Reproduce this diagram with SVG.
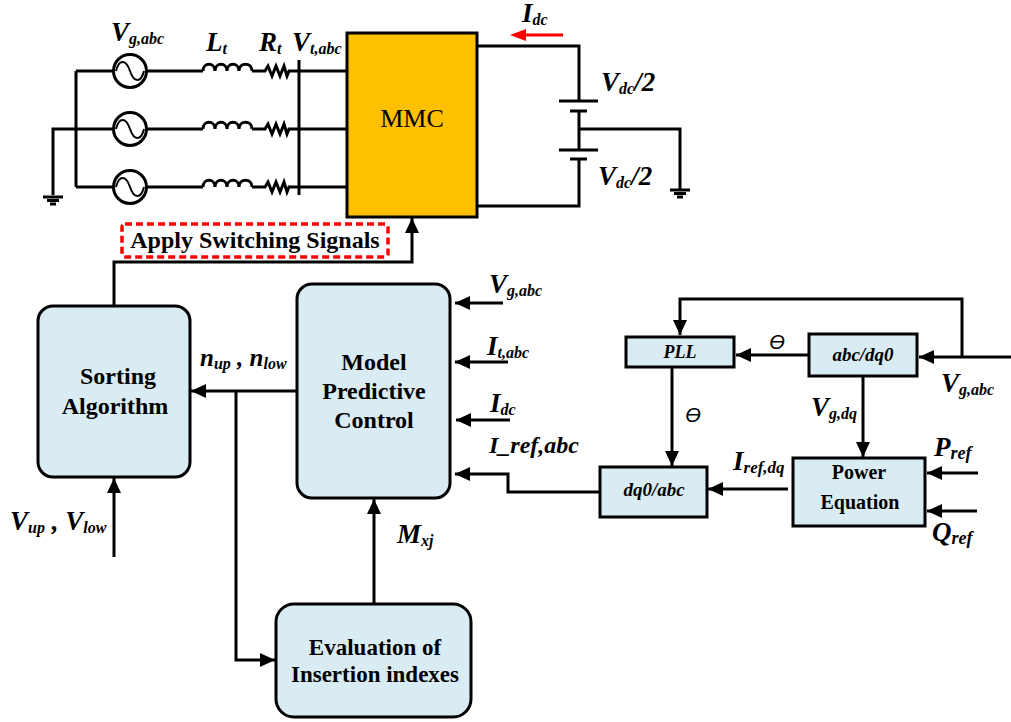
<svg xmlns="http://www.w3.org/2000/svg" width="1011" height="722" viewBox="0 0 1011 722">
<style>
.w{fill:none;stroke:#000;stroke-width:3}
.a{fill:none;stroke:#000;stroke-width:3;marker-end:url(#ah)}
.b{fill:#daecf3;stroke:#000;stroke-width:3}
text{font-family:"Liberation Serif",serif;fill:#000}
.t{font-weight:bold;font-size:24px;text-anchor:middle}
.m{font-weight:bold;font-style:italic;font-size:27px}
.m tspan{font-size:16px}
.s{font-weight:bold;font-style:italic;font-size:19px;text-anchor:middle}
.th{font-family:"Liberation Sans",sans-serif;font-style:italic;font-size:20px;text-anchor:middle}
</style>
<defs>
<marker id="ah" markerUnits="userSpaceOnUse" markerWidth="16" markerHeight="14" refX="15" refY="7" orient="auto"><path d="M0 0L15 7L0 14Z" fill="#000"/></marker>
<g id="src"><circle cx="0" cy="0" r="16.5" fill="none" stroke="#000" stroke-width="3"/><path d="M-14 0C-11 -12 -4 -12 0 0S11 12 14 0" fill="none" stroke="#000" stroke-width="2"/></g>
<path id="rl" d="M-48 0H-24M-24 0C-24 -9 -12 -9 -12 0C-12 -9 0 -9 0 0C0 -9 12 -9 12 0C12 -9 25 -9 25 0M25 0H38L41 -5L45 5L49 -5L53 5L57 -5L60 5L62 0H72" fill="none" stroke="#000" stroke-width="3"/>
<g id="gnd"><path d="M-10 0H10M-6 3.500H6M-3 7H3" fill="none" stroke="#000" stroke-width="3"/></g>
</defs>
<g id="connectors">
<path class="w" d="M76 71V187M76 71H113M76 187H113M53 195V129H113"/>
<path class="w" d="M147 71H179M147 129H179M147 187H179M299 60V195"/>
<use href="#rl" x="227" y="71"/><use href="#rl" x="227" y="129"/><use href="#rl" x="227" y="187"/>
<path class="w" d="M299 71H347M299 129H347M299 187H347"/>
<path class="w" d="M477 46H579V101M579 111V150M579 159V206H477M559 101H598M570 111H587M559 150H598M570 159H587M579 129H680V190"/>
<path d="M563 35H524" fill="none" stroke="#f00" stroke-width="3"/><path d="M510 35L526 29V41Z" fill="#f00"/>
<path class="a" d="M114 306V262H412V218"/>
<path class="a" d="M114 557V478"/>
<path class="a" d="M297 391H191"/>
<path class="a" d="M236 391V660H275"/>
<path class="a" d="M374 604V499"/>
<path class="a" d="M503 303H455"/>
<path class="a" d="M508 362H455"/>
<path class="a" d="M510 420H456"/>
<path class="a" d="M600 492H508V474H455"/>
<path class="a" d="M1011 357H919"/>
<path class="a" d="M962 357V299H680V335"/>
<path class="a" d="M809 355H736"/>
<path class="a" d="M672 367V466"/>
<path class="a" d="M863 376V457"/>
<path class="a" d="M788 489H708"/>
<path class="a" d="M978 473H927"/>
<path class="a" d="M977 511H927"/>
</g>
<g id="sources"><use href="#src" x="130" y="71"/><use href="#src" x="130" y="129"/><use href="#src" x="130" y="187"/></g>
<g id="grounds"><use href="#gnd" x="53" y="197"/><use href="#gnd" x="680" y="190"/></g>
<g id="mmc"><rect x="347" y="33" width="130" height="184" fill="#ffc000" stroke="#000" stroke-width="3"/><text x="412" y="127" font-size="26" text-anchor="middle">MMC</text></g>
<g id="apply"><rect x="122" y="224" width="266" height="33" rx="3" fill="none" stroke="#f00" stroke-width="3.500" stroke-dasharray="7 4"/><text class="t" x="255" y="248">Apply Switching Signals</text></g>
<g id="sorting"><rect class="b" x="38" y="306" width="152" height="171" rx="15"/><text class="t" x="118" y="384">Sorting</text><text class="t" x="115" y="414">Algorithm</text></g>
<g id="mpc"><rect class="b" x="297" y="284" width="153" height="214" rx="15"/><text class="t" x="374" y="370">Model</text><text class="t" x="374" y="399">Predictive</text><text class="t" x="374" y="428">Control</text></g>
<g id="eval"><rect class="b" x="276" y="604" width="195" height="113" rx="18"/><text class="t" x="375" y="655" style="font-size:23px">Evaluation of</text><text class="t" x="375" y="682" style="font-size:23px">Insertion indexes</text></g>
<g id="pll"><rect class="b" x="626" y="337" width="108" height="30"/><text class="s" x="680" y="358" style="font-size:18px">PLL</text></g>
<g id="abc"><rect class="b" x="809" y="334" width="108" height="42"/><text class="s" x="863" y="361">abc/dq0</text></g>
<g id="dq0"><rect class="b" x="600" y="467" width="107" height="50"/><text class="s" x="654" y="496">dq0/abc</text></g>
<g id="power"><rect class="b" x="793" y="458" width="132" height="68"/><text class="t" x="859" y="479" style="font-size:20px">Power</text><text class="t" x="860" y="509" style="font-size:20px">Equation</text></g>
<g id="labels">
<text class="m" x="111" y="41">V<tspan dy="3">g,abc</tspan></text>
<text class="m" x="206" y="51">L<tspan dy="3">t</tspan></text>
<text class="m" x="259" y="51">R<tspan dy="3">t</tspan></text>
<text class="m" x="292" y="51">V<tspan dy="3">t,abc</tspan></text>
<text class="m" x="522" y="22">I<tspan dy="3">dc</tspan></text>
<text class="m" x="601" y="91">V<tspan dy="3">dc</tspan><tspan dy="-3" style="font-size:27px">/2</tspan></text>
<text class="m" x="598" y="185">V<tspan dy="3">dc</tspan><tspan dy="-3" style="font-size:27px">/2</tspan></text>
<text class="m" x="489" y="293">V<tspan dy="3">g,abc</tspan></text>
<text class="m" x="487" y="355">I<tspan dy="3">t,abc</tspan></text>
<text class="m" x="490" y="412">I<tspan dy="3">dc</tspan></text>
<text class="m" x="489" y="453" style="font-size:24px">I_ref,abc</text>
<text class="m" x="200" y="366" style="font-size:25px">n<tspan dy="3">up</tspan><tspan dy="-3" style="font-size:25px"> , n</tspan><tspan dy="3">low</tspan></text>
<text class="m" x="10" y="530">V<tspan dy="3">up</tspan><tspan dy="-3" style="font-size:27px"> , V</tspan><tspan dy="3">low</tspan></text>
<text class="m" x="397" y="543">M<tspan dy="3">xj</tspan></text>
<text class="m" x="941" y="392">V<tspan dy="3">g,abc</tspan></text>
<text class="m" x="811" y="416">V<tspan dy="3">g,dq</tspan></text>
<text class="m" x="733" y="470">I<tspan dy="3" style="font-size:17px">ref,dq</tspan></text>
<text class="m" x="934" y="456">P<tspan dy="3" style="font-size:18px">ref</tspan></text>
<text class="m" x="932" y="541">Q<tspan dy="3" style="font-size:18px">ref</tspan></text>
<text class="th" x="777" y="349">ϴ</text>
<text class="th" x="693" y="422">ϴ</text>
</g>
</svg>
